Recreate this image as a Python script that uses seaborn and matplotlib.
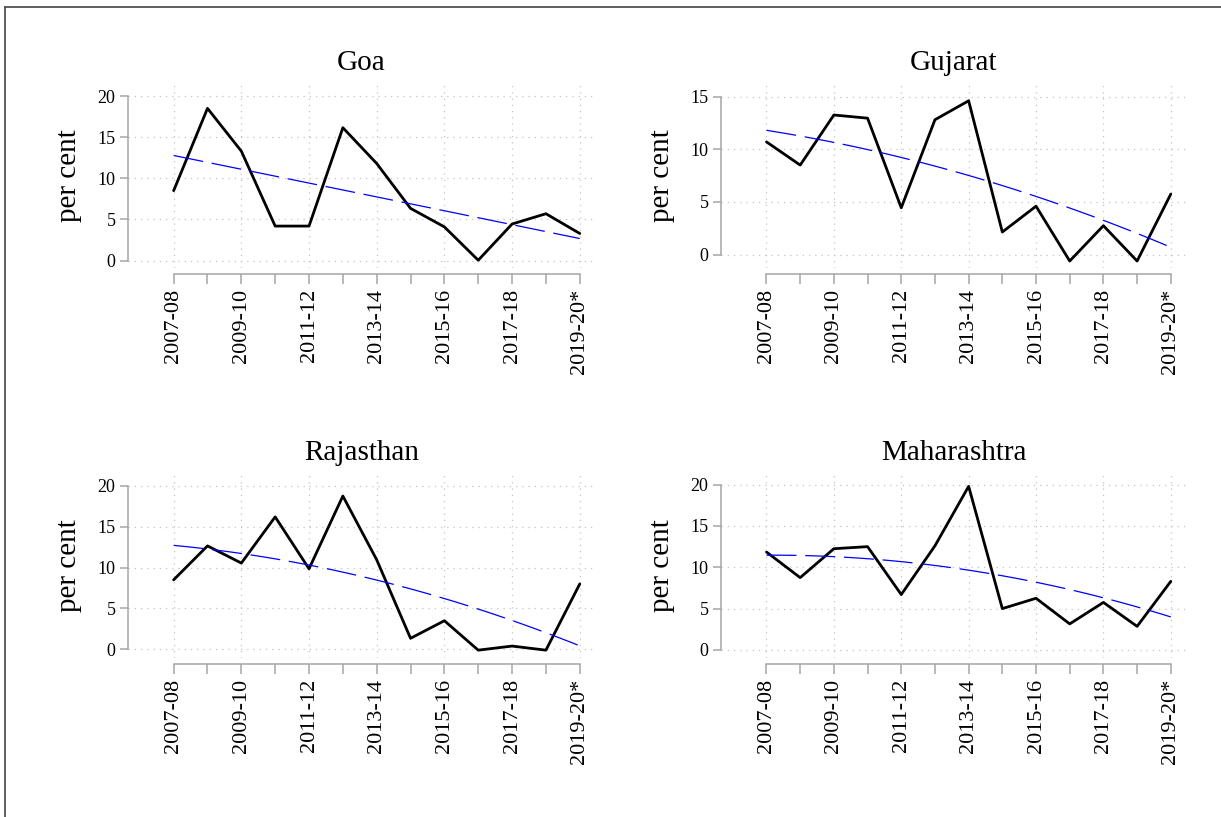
import numpy as np
import pandas as pd
import matplotlib
matplotlib.use("Agg")
import matplotlib.pyplot as plt
from matplotlib.lines import Line2D
from matplotlib.ticker import FixedLocator, FixedFormatter, NullFormatter
import seaborn as sns

years = ["2007-08", "2008-09", "2009-10", "2010-11", "2011-12", "2012-13", "2013-14",
         "2014-15", "2015-16", "2016-17", "2017-18", "2018-19", "2019-20*"]

goa = [8.5, 18.5, 13.3, 4.2, 4.2, 16.15, 11.8, 6.35, 4.1, 0.05, 4.45, 5.7, 3.3]
gujarat = [10.7, 8.5, 13.25, 12.95, 4.45, 12.8, 14.6, 2.15, 4.6, -0.6, 2.75, -0.6, 5.75]
rajasthan = [8.5, 12.65, 10.55, 16.2, 9.85, 18.75, 10.95, 1.35, 3.5, -0.1, 0.4, -0.1, 8.0]
maharashtra = [11.85, 8.75, 12.25, 12.5, 6.7, 12.6, 19.8, 5.0, 6.25, 3.15, 5.75, 2.85, 8.3]

states = ["Goa", "Gujarat", "Rajasthan", "Maharashtra"]
series = [goa, gujarat, rajasthan, maharashtra]
yticks = [[0, 5, 10, 15, 20], [0, 5, 10, 15], [0, 5, 10, 15, 20], [0, 5, 10, 15, 20]]

# layout (figure fractions) and per-panel y-range
positions = [
    [0.1048, 0.672, 0.3825, 0.2253],
    [0.5905, 0.672, 0.3808, 0.2253],
    [0.1048, 0.1946, 0.3825, 0.2253],
    [0.5905, 0.1946, 0.3808, 0.2253],
]
ylims = [(-0.89, 21.47), (-1.26, 16.2), (-1.06, 21.45), (-0.98, 21.3)]

sns.set_theme(style="white")
plt.rcParams["font.family"] = ["Liberation Serif", "DejaVu Serif"]
plt.rcParams["text.color"] = "black"
plt.rcParams["axes.labelcolor"] = "black"
plt.rcParams["xtick.color"] = "black"
plt.rcParams["ytick.color"] = "black"

fig = plt.figure(figsize=(12.21, 8.17), dpi=100)
fig.patch.set_facecolor("white")

spine_col = "#a6a6a6"
grid_col = "#c4c4c4"

for i, (name, vals) in enumerate(zip(states, series)):
    ax = fig.add_axes(positions[i])
    df = pd.DataFrame({"x": np.arange(len(years)), "y": vals})
    sns.lineplot(data=df, x="x", y="y", ax=ax, color="black", linewidth=2.0, zorder=3)
    sns.regplot(data=df, x="x", y="y", ax=ax, order=2, ci=None, scatter=False,
                line_kws=dict(color="#0000ff", linewidth=0.9, dashes=(24, 7), zorder=4))
    ax.set_xlim(-1.35, 12.45)
    ax.set_ylim(*ylims[i])

    major_pos = list(range(0, len(years), 2))
    ax.xaxis.set_major_locator(FixedLocator(major_pos))
    ax.xaxis.set_major_formatter(FixedFormatter([years[k] for k in major_pos]))
    ax.xaxis.set_minor_locator(FixedLocator(list(range(1, len(years), 2))))
    ax.xaxis.set_minor_formatter(NullFormatter())
    ax.yaxis.set_major_locator(FixedLocator(yticks[i]))
    ax.yaxis.set_major_formatter(FixedFormatter([str(t) for t in yticks[i]]))

    ax.grid(True, which="major", color=grid_col, linestyle=(0, (1, 4)), linewidth=0.9)
    ax.tick_params(axis="x", which="both", direction="out", length=7, width=1.1,
                   color=spine_col, pad=4, bottom=True, labelcolor="black")
    ax.tick_params(axis="x", which="major", labelrotation=90, labelsize=16)
    ax.tick_params(axis="y", which="major", direction="out", length=6, width=1.1,
                   color=spine_col, pad=3, left=True, labelsize=13, labelcolor="black")

    for s in ["top", "right"]:
        ax.spines[s].set_visible(False)
    ax.spines["left"].set_color(spine_col)
    ax.spines["left"].set_linewidth(1.1)
    ax.spines["left"].set_bounds(yticks[i][0], yticks[i][-1])
    ax.spines["bottom"].set_color(spine_col)
    ax.spines["bottom"].set_linewidth(1.1)
    ax.spines["bottom"].set_bounds(0, len(years) - 1)
    ax.spines["bottom"].set_position(("outward", 4))

    ax.set_xlabel("")
    ax.set_ylabel("per cent", fontsize=21, labelpad=11, color="black")
    ax.set_title(name, fontsize=21, pad=10, color="black")
    ax.set_facecolor("white")

# outer frame (left and top edges visible)
fig.add_artist(Line2D([5 / 1221, 5 / 1221], [1 - 7 / 817, -0.01], transform=fig.transFigure,
                      color="#444444", linewidth=1.2))
fig.add_artist(Line2D([5 / 1221, 1.01], [1 - 7 / 817, 1 - 7 / 817], transform=fig.transFigure,
                      color="#444444", linewidth=1.2))

fig.savefig("out.png", dpi=100, facecolor="white")
